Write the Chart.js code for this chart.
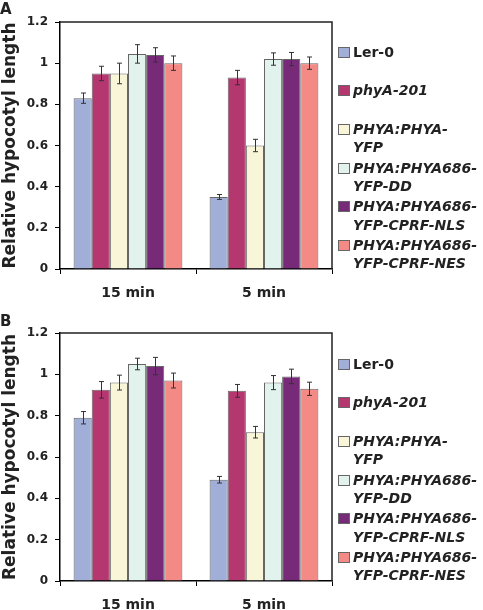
<!DOCTYPE html>
<html>
<head>
<meta charset="utf-8">
<script src="https://cdn.jsdelivr.net/npm/chart.js@4.4.0/dist/chart.umd.min.js"></script>
<style>
  html, body { margin: 0; padding: 0; background: #fff; }
  body { width: 483px; height: 610px; position: relative; overflow: hidden; font-family: "DejaVu Sans", sans-serif; color: #222; }
  .panel { position: absolute; left: 0; width: 483px; height: 298px; }
  .panel canvas { position: absolute; left: 0; top: 0; }
  .tag { position: absolute; left: 0; top: 2px; font-weight: bold; font-size: 15px; line-height: 15px; }
  .legend { position: absolute; left: 338px; top: 42.5px; }
  .item { position: relative; height: 38.7px; font-weight: bold; font-size: 14px; line-height: 18.5px; padding-left: 15px; white-space: nowrap; }
  .item i { font-style: italic; }
  .sw { position: absolute; left: 0; top: 4px; width: 10px; height: 9px; border: 1px solid #666; }
</style>
</head>
<body>
<div class="panel" id="pA" style="top:0px"><canvas id="cA" width="483" height="298"></canvas><div class="tag">A</div><div class="legend" id="lA"></div></div>
<div class="panel" id="pB" style="top:312px"><canvas id="cB" width="483" height="298"></canvas><div class="tag">B</div><div class="legend" id="lB"></div></div>
<script>
var categories = ['15 min', '5 min'];
var genotypes = ['Ler-0', 'phyA-201', 'PHYA:PHYA-YFP', 'PHYA:PHYA686-YFP-DD', 'PHYA:PHYA686-YFP-CPRF-NLS', 'PHYA:PHYA686-YFP-CPRF-NES'];
// legend lines as printed (wrapped like the figure)
var legendLines = [['Ler-0'], ['phyA-201'], ['PHYA:PHYA-', 'YFP'], ['PHYA:PHYA686-', 'YFP-DD'], ['PHYA:PHYA686-', 'YFP-CPRF-NLS'], ['PHYA:PHYA686-', 'YFP-CPRF-NES']];
var legendItalic = [false, true, true, true, true, true];
var colors = ['#a0aed8', '#b4376f', '#f8f5d8', '#e2f2ed', '#772a77', '#f38a85'];
var yTicks = ['0', '0.2', '0.4', '0.6', '0.8', '1', '1.2'];

// panel A values, per genotype: [15 min, 5 min]
var valuesA = [[0.83, 0.35], [0.95, 0.93], [0.95, 0.60], [1.045, 1.02], [1.04, 1.02], [1.0, 1.0]];
var errorsA = [[0.025, 0.012], [0.035, 0.035], [0.05, 0.03], [0.045, 0.03], [0.035, 0.032], [0.035, 0.03]];
// panel B
var valuesB = [[0.79, 0.49], [0.925, 0.92], [0.96, 0.72], [1.05, 0.96], [1.04, 0.99], [0.97, 0.93]];
var errorsB = [[0.03, 0.016], [0.04, 0.031], [0.036, 0.028], [0.028, 0.034], [0.042, 0.035], [0.036, 0.032]];

var errorBars = {
  id: 'errorBars',
  afterDatasetsDraw: function(chart, args, opts) {
    var ctx = chart.ctx, y = chart.scales.y;
    ctx.save();
    ctx.strokeStyle = '#333';
    ctx.lineWidth = 1;
    chart.data.datasets.forEach(function(ds, i) {
      var meta = chart.getDatasetMeta(i);
      meta.data.forEach(function(bar, j) {
        var v = ds.data[j], e = ds.errors[j];
        var x = Math.round(bar.x) + 0.5;
        var yt = y.getPixelForValue(v + e), yb = y.getPixelForValue(v - e);
        ctx.beginPath();
        ctx.moveTo(x, yt); ctx.lineTo(x, yb);
        ctx.moveTo(x - 2.5, yt); ctx.lineTo(x + 2.5, yt);
        ctx.moveTo(x - 2.5, yb); ctx.lineTo(x + 2.5, yb);
        ctx.stroke();
      });
    });
    ctx.restore();
  }
};

var frame = {
  id: 'frame',
  afterDraw: function(chart) {
    var a = chart.chartArea, ctx = chart.ctx;
    ctx.save();
    ctx.strokeStyle = '#222';
    ctx.lineWidth = 1.5;
    ctx.beginPath();
    ctx.moveTo(a.left, a.top); ctx.lineTo(a.right, a.top); ctx.lineTo(a.right, a.bottom);
    ctx.stroke();
    ctx.restore();
  }
};

function makeChart(canvasId, values, errors, topPad) {
  var datasets = [];
  for (var i = 0; i < genotypes.length; i++) {
    datasets.push({
      label: genotypes[i],
      data: values[i],
      errors: errors[i],
      backgroundColor: colors[i],
      borderColor: '#666',
      borderWidth: 1,
      categoryPercentage: 0.8,
      barPercentage: 1.0
    });
  }
  return new Chart(document.getElementById(canvasId), {
    type: 'bar',
    data: { labels: categories, datasets: datasets },
    plugins: [errorBars, frame],
    options: {
      responsive: false,
      animation: false,
      layout: { padding: { left: 0, right: 151, top: topPad, bottom: 0 } },
      plugins: { legend: { display: false }, tooltip: { enabled: false } },
      scales: {
        x: {
          afterFit: function(s) { s.height = 29; },
          grid: { drawOnChartArea: false, drawTicks: true, tickLength: 5, color: '#000', offset: true },
          border: { color: '#000', width: 1.5 },
          ticks: { color: '#222', padding: 11, font: { family: 'DejaVu Sans', weight: 'bold', size: 14 } }
        },
        y: {
          min: 0, max: 1.2,
          afterFit: function(s) { s.width = 60; },
          grid: { drawOnChartArea: false, drawTicks: true, tickLength: 5, color: '#000' },
          border: { color: '#000', width: 1.5 },
          ticks: {
            stepSize: 0.2, color: '#222', padding: 7,
            font: { family: 'DejaVu Sans', weight: 'bold', size: 12 },
            callback: function(v, idx) { return yTicks[idx]; }
          },
          title: {
            display: true, text: 'Relative hypocotyl length', color: '#222',
            padding: { top: 0, bottom: 0 },
            font: { family: 'DejaVu Sans', weight: 'bold', size: 17 }
          }
        }
      }
    }
  });
}

function makeLegend(id) {
  var box = document.getElementById(id);
  for (var i = 0; i < legendLines.length; i++) {
    var item = document.createElement('div');
    item.className = 'item';
    var sw = document.createElement('span');
    sw.className = 'sw';
    sw.style.background = colors[i];
    item.appendChild(sw);
    var txt = document.createElement(legendItalic[i] ? 'i' : 'span');
    txt.innerHTML = legendLines[i].join('<br>');
    item.appendChild(txt);
    box.appendChild(item);
  }
}

makeChart('cA', valuesA, errorsA, 22);
makeChart('cB', valuesB, errorsB, 21);
makeLegend('lA');
makeLegend('lB');
</script>
</body>
</html>
